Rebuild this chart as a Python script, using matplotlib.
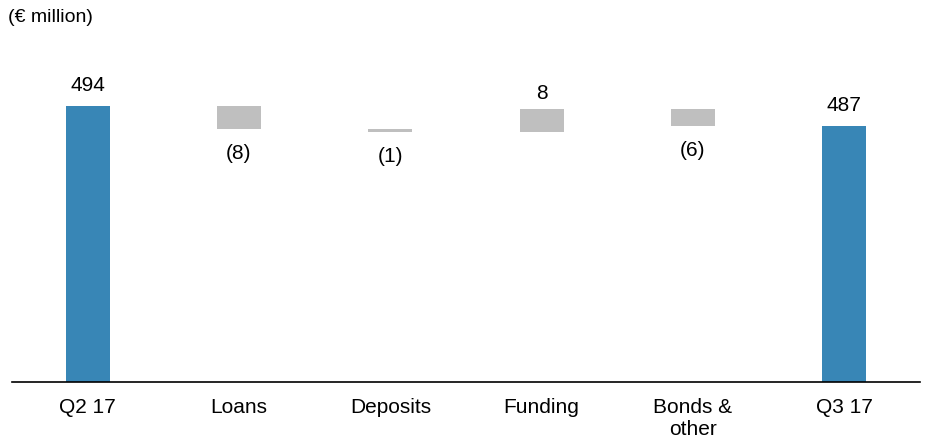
# waterfall chart: net interest income bridge Q2 17 -> Q3 17

import numpy as np
import matplotlib.pyplot as plt

plt.rcParams['font.family'] = ['Liberation Sans', 'DejaVu Sans']

# data
categories = ['Q2 17', 'Loans', 'Deposits', 'Funding', 'Bonds &\nother', 'Q3 17']
start_value = 494
changes = [-8, -1, 8, -6]
end_value = 487

blue = '#3886b6'
grey = '#bfbfbf'

# build bar bottoms / heights from the running total
running = start_value
bottoms = [0]
heights = [start_value]
for d in changes:
    bottoms.append(min(running, running + d))
    heights.append(abs(d))
    running += d
bottoms.append(0)
heights.append(end_value)
colors = [blue] + [grey] * len(changes) + [blue]

x = np.arange(len(categories))

fig = plt.figure(figsize=(9.26, 4.48), dpi=100)
ax = fig.add_axes([12 / 926, 1 - 381.5 / 448, 908 / 926, 331.5 / 448])

ax.bar(x, heights, bottom=bottoms, width=0.29, color=colors, zorder=1)
ax.set_xlim(-0.5, len(categories) - 0.5)
ax.set_ylim(397.5, 397.5 + 331.5 / 2.857)

# value labels
values = [start_value] + changes + [end_value]
for i, v in enumerate(values):
    top = bottoms[i] + heights[i]
    if i == 0 or i == len(values) - 1:
        ax.annotate(str(v), (x[i], top), xytext=(0, 8), textcoords='offset points',
                    ha='center', va='bottom', fontsize=15)
    elif v >= 0:
        ax.annotate(str(v), (x[i], top), xytext=(0, 4), textcoords='offset points',
                    ha='center', va='bottom', fontsize=15)
    else:
        ax.annotate('(%d)' % abs(v), (x[i], bottoms[i]), xytext=(0, -11), textcoords='offset points',
                    ha='center', va='top', fontsize=15)

ax.set_xticks(x)
ax.set_xticklabels(categories, fontsize=15, linespacing=1.2)
ax.tick_params(axis='x', length=0, pad=12)
ax.set_yticks([])
for s in ['top', 'left', 'right']:
    ax.spines[s].set_visible(False)
ax.spines['bottom'].set_linewidth(1.2)
ax.spines['bottom'].set_color('black')

fig.text(8 / 926, 1 - 17 / 448, '(€ million)', fontsize=14, va='center', ha='left')

fig.savefig('out.png', dpi=100)
